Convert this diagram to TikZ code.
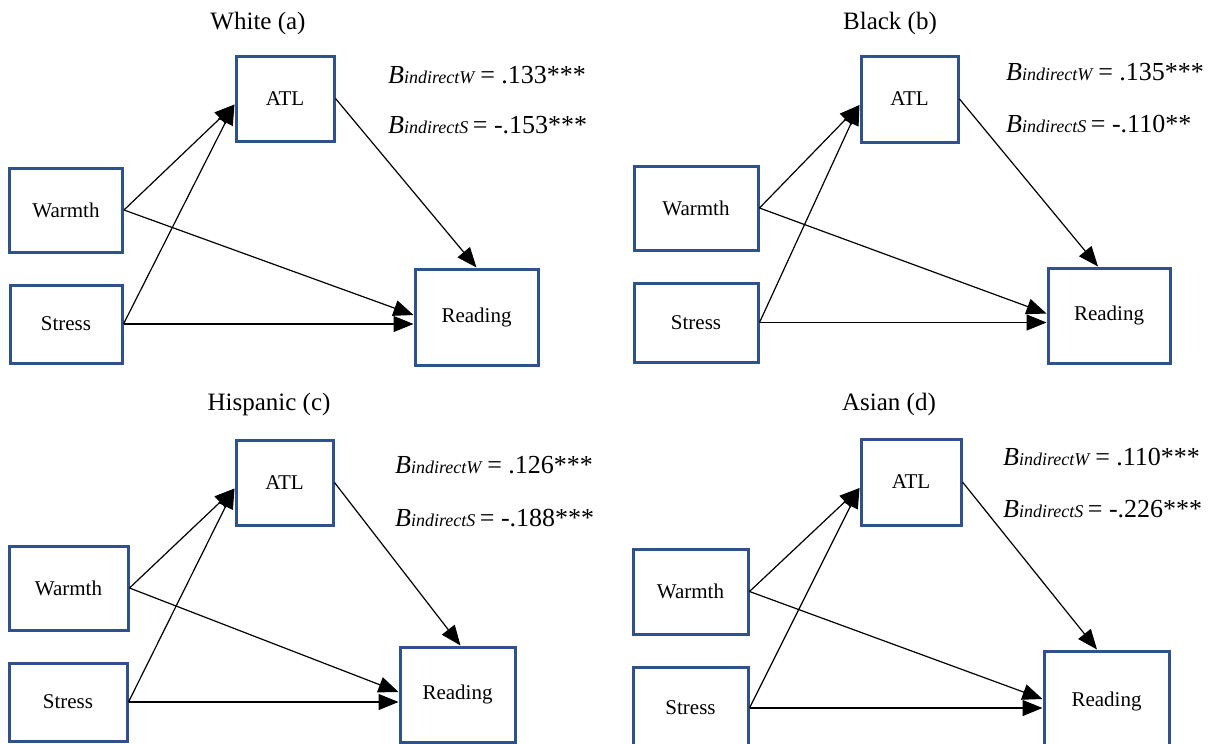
\documentclass[tikz,border=0pt]{standalone}
\usepackage{fontspec}
\setmainfont{Liberation Serif}
\usetikzlibrary{arrows.meta}

\definecolor{boxblue}{RGB}{47,82,143}
% coefficient text: B with italic subscript
\newcommand{\bind}[2]{\textit{B}{\fontsize{18}{20}\selectfont\textit{indirect#1} }= #2}

\begin{document}
\begin{tikzpicture}[x=1pt, y=-1pt, >={Triangle[length=20pt, width=16pt]},
    var/.style={draw=boxblue, line width=3pt, inner sep=0pt, font=\fontsize{21}{25}\selectfont},
    link/.style={->, line width=1.2pt},
    ttl/.style={anchor=base, inner sep=0pt, font=\fontsize{25}{30}\selectfont},
    coef/.style={anchor=base west, inner sep=0pt, font=\fontsize{26}{30}\selectfont}]
    \useasboundingbox (0,0) rectangle (1219,744);
    \clip (0,0) rectangle (1219,744);

    % White (a)
    \node[ttl] (ttlA) at (258,30) {White (a)};
    \node[var, minimum width=98pt, minimum height=85pt] (atlA) at (285,98.5) {ATL};
    \node[var, minimum width=113pt, minimum height=84pt] (warmA) at (66,210) {Warmth};
    \node[var, minimum width=112pt, minimum height=78pt] (stressA) at (66,324) {Stress};
    \node[var, minimum width=123pt, minimum height=96pt] (readA) at (476.5,317) {Reading};
    \node[coef] (bwA) at (388,83) {\bind{W}{.133***}};
    \node[coef] (bsA) at (388,133) {\bind{S}{-.153***}};
    \draw[link] (warmA.east) -- ([yshift=-6pt]atlA.west);
    \draw[link] (stressA.east) -- ([yshift=-6pt]atlA.west);
    \draw[link] (warmA.east) -- ([yshift=2pt]readA.west);
    \draw[link] (stressA.east) -- (stressA.east -| readA.west);
    \draw[link] (atlA.east) -- (readA.north);

    % Black (b)
    \node[ttl] (ttlB) at (890,30) {Black (b)};
    \node[var, minimum width=97pt, minimum height=86pt] (atlB) at (909.5,99) {ATL};
    \node[var, minimum width=124pt, minimum height=84pt] (warmB) at (696,208) {Warmth};
    \node[var, minimum width=124pt, minimum height=79pt] (stressB) at (696,322.5) {Stress};
    \node[var, minimum width=122pt, minimum height=95pt] (readB) at (1109,315.5) {Reading};
    \node[coef] (bwB) at (1006,80) {\bind{W}{.135***}};
    \node[coef] (bsB) at (1006,132) {\bind{S}{-.110**}};
    \draw[link] (warmB.east) -- ([yshift=-6pt]atlB.west);
    \draw[link] (stressB.east) -- ([yshift=-6pt]atlB.west);
    \draw[link] (warmB.east) -- ([yshift=2pt]readB.west);
    \draw[link] (stressB.east) -- (stressB.east -| readB.west);
    \draw[link] (atlB.east) -- ([xshift=-11pt]readB.north);

    % Hispanic (c)
    \node[ttl] (ttlC) at (269,410) {Hispanic (c)};
    \node[var, minimum width=97pt, minimum height=85pt] (atlC) at (284.5,482.5) {ATL};
    \node[var, minimum width=119pt, minimum height=84pt] (warmC) at (68.5,588) {Warmth};
    \node[var, minimum width=118pt, minimum height=78pt] (stressC) at (68,702) {Stress};
    \node[var, minimum width=115pt, minimum height=95pt] (readC) at (457.5,694.5) {Reading};
    \node[coef] (bwC) at (395,473) {\bind{W}{.126***}};
    \node[coef] (bsC) at (395,526) {\bind{S}{-.188***}};
    \draw[link] (warmC.east) -- ([yshift=-6pt]atlC.west);
    \draw[link] (stressC.east) -- ([yshift=-6pt]atlC.west);
    \draw[link] (warmC.east) -- ([yshift=2.5pt]readC.west);
    \draw[link] (stressC.east) -- (stressC.east -| readC.west);
    \draw[link] (atlC.east) -- ([xshift=3pt]readC.north);

    % Asian (d)
    \node[ttl] (ttlD) at (889,410) {Asian (d)};
    \node[var, minimum width=100pt, minimum height=86pt] (atlD) at (911,482) {ATL};
    \node[var, minimum width=115pt, minimum height=85pt] (warmD) at (690.5,591.5) {Warmth};
    \node[var, minimum width=115pt, minimum height=82pt] (stressD) at (690.5,708) {Stress};
    \node[var, minimum width=125pt, minimum height=100pt] (readD) at (1106.5,701) {Reading};
    \node[coef] (bwD) at (1003,465) {\bind{W}{.110***}};
    \node[coef] (bsD) at (1003,517) {\bind{S}{-.226***}};
    \draw[link] (warmD.east) -- ([yshift=-6pt]atlD.west);
    \draw[link] (stressD.east) -- ([yshift=-6pt]atlD.west);
    \draw[link] (warmD.east) -- ([yshift=2pt]readD.west);
    \draw[link] (stressD.east) -- (stressD.east -| readD.west);
    \draw[link] (atlD.east) -- ([xshift=-9.5pt]readD.north);
\end{tikzpicture}
\end{document}
